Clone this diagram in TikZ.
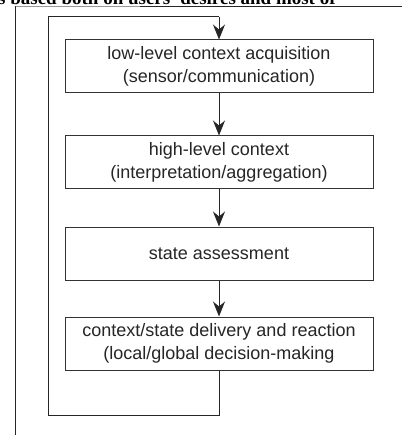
\documentclass[tikz,border=0pt]{standalone}
\usepackage{fontspec}
\setmainfont{Liberation Sans}
\newfontfamily\frag{Liberation Serif}
\usetikzlibrary{arrows.meta}
\begin{document}
\begin{tikzpicture}[x=1pt,y=-1pt,
  stepbox/.style={draw=black!80, line width=1pt, minimum width=308pt, minimum height=53pt,
    align=center, inner sep=0pt, font=\fontsize{18}{23}\selectfont, text=black!85},
  flow/.style={draw=black!85, line width=1pt, -{Stealth[length=15pt,width=12pt,inset=5pt]}},
  loopline/.style={draw=black!85, line width=1pt}]
\useasboundingbox (0,0) rectangle (402,435);
\fill[white] (0,0) rectangle (402,435);
\begin{scope}
\clip (0,0) rectangle (402,5.5);
\node[anchor=base west, inner sep=0pt, font=\frag\bfseries\fontsize{19}{19}\selectfont] (frag) at (-2,5) {s based both on users' desires and most of};
\end{scope}
\draw[black!40, line width=0.9pt] (140,6.5) -- (15,6.5);
\draw[black!85, line width=0.9pt] (402,6.5) -- (140,6.5);
\draw[black!85, line width=0.9pt] (15,6.5) -- (15,435);
\node[stepbox] (b1) at (219,66.5) {low-level context acquisition\\(sensor/communication)};
\node[stepbox] (b2) at (219,162.5) {high-level context\\(interpretation/aggregation)};
\node[stepbox] (b3) at (219,253.5) {state assessment};
\node[stepbox] (b4) at (219,343.5) {context/state delivery and reaction\\(local/global decision-making};
\coordinate (l1) at (219,415);
\coordinate (l2) at (48,415);
\coordinate (l3) at (48,17);
\coordinate (l4) at (219,17);
\draw[flow] (b1) -- (b2);
\draw[flow] (b2) -- (b3);
\draw[flow] (b3) -- (b4);
\draw[loopline] (b4.south) -- (l1) -- (l2) -- (l3) -- (l4);
\draw[flow] (l4) -- (b1.north);
\end{tikzpicture}
\end{document}
